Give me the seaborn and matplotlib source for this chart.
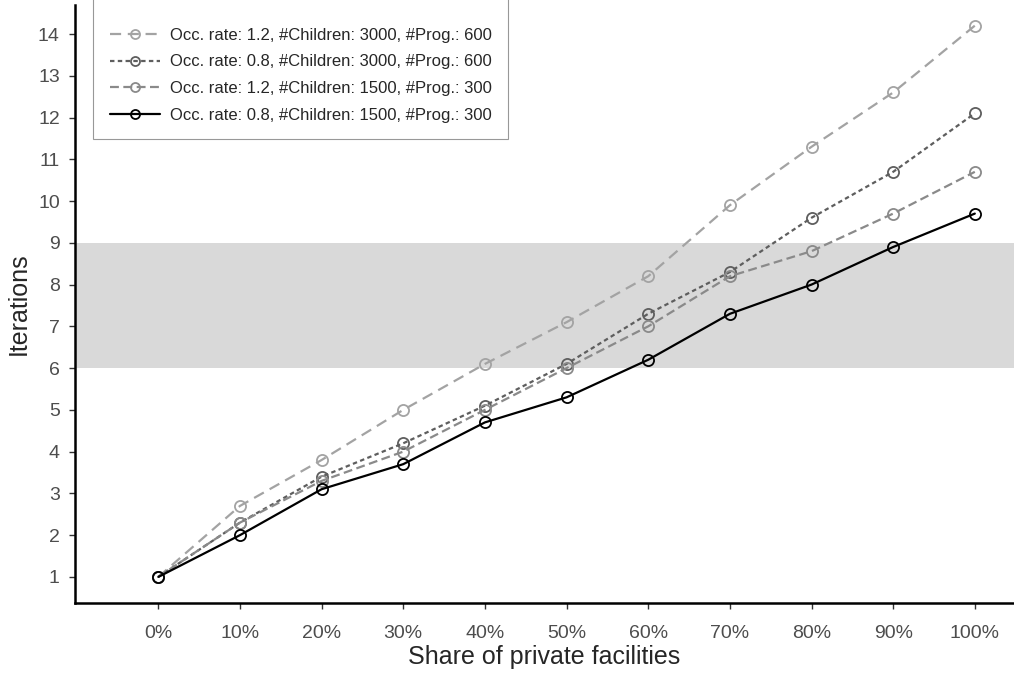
import numpy as np
import pandas as pd
import seaborn as sns
import matplotlib.pyplot as plt
from matplotlib.ticker import FuncFormatter

share = [0, 10, 20, 30, 40, 50, 60, 70, 80, 90, 100]
series_names = [
    'Occ. rate: 1.2, #Children: 3000, #Prog.: 600',
    'Occ. rate: 0.8, #Children: 3000, #Prog.: 600',
    'Occ. rate: 1.2, #Children: 1500, #Prog.: 300',
    'Occ. rate: 0.8, #Children: 1500, #Prog.: 300',
]
occ12_3000 = [1, 2.7, 3.8, 5.0, 6.1, 7.1, 8.2, 9.9, 11.3, 12.6, 14.2]
occ08_3000 = [1, 2.3, 3.4, 4.2, 5.1, 6.1, 7.3, 8.3, 9.6, 10.7, 12.1]
occ12_1500 = [1, 2.3, 3.3, 4.0, 5.0, 6.0, 7.0, 8.2, 8.8, 9.7, 10.7]
occ08_1500 = [1, 2.0, 3.1, 3.7, 4.7, 5.3, 6.2, 7.3, 8.0, 8.9, 9.7]
band_low, band_high = 6, 9

df = pd.DataFrame({
    'share': share * 4,
    'iterations': occ12_3000 + occ08_3000 + occ12_1500 + occ08_1500,
    'setting': np.repeat(series_names, len(share)),
})

sns.set_style('ticks')
plt.rcParams['font.family'] = ['Liberation Sans', 'DejaVu Sans']

colors = dict(zip(series_names, ['#a3a3a3', '#5e5e5e', '#8a8a8a', '#000000']))
dashes = dict(zip(series_names, [(5, 3), (2, 1.5), (4, 2), '']))

fig, ax = plt.subplots(figsize=(10.14, 6.85), dpi=100)
ax.axhspan(band_low, band_high, color='#d9d9d9', lw=0, zorder=0)

sns.lineplot(data=df, x='share', y='iterations', hue='setting', style='setting',
             palette=colors, dashes=dashes, markers=dict(zip(series_names, ['o'] * 4)),
             markersize=8, linewidth=1.6, ax=ax, hue_order=series_names,
             style_order=series_names, legend=False)
for line, name in zip(ax.lines, series_names):
    line.set_markeredgecolor(colors[name])
    line.set_markerfacecolor('none')
    line.set_markeredgewidth(1.3)

ax.set_xlim(-10.2, 104.8)
ax.set_ylim(0.38, 14.7)
ax.set_xticks(share)
ax.xaxis.set_major_formatter(FuncFormatter(lambda v, p: f'{v:.0f}%'))
ax.set_yticks(range(1, 15))
ax.tick_params(axis='both', colors='#4d4d4d', labelsize=14, length=4, width=1)
ax.tick_params(axis='x', pad=12)
ax.tick_params(axis='y', pad=7)
ax.tick_params(axis='both', color='#333333')
for s in ['top', 'right']:
    ax.spines[s].set_visible(False)
for s in ['left', 'bottom']:
    ax.spines[s].set_linewidth(1.8)
    ax.spines[s].set_color('black')
ax.set_xlabel('Share of private facilities', fontsize=18, labelpad=2)
ax.set_ylabel('Iterations', fontsize=18)
ax.yaxis.set_label_coords(-0.047, 0.5)

# blank title reproduces the extra space above the first entry
leg = ax.legend(ax.lines[:4], series_names, title=' ', title_fontsize=12,
                loc='upper left', bbox_to_anchor=(0.019, 1.034),
                fontsize=12, frameon=True, fancybox=False, edgecolor='#7f7f7f',
                borderpad=1.0, handlelength=3.0, handletextpad=0.6, labelspacing=0.7,
                borderaxespad=0, numpoints=1)
leg.get_frame().set_linewidth(0.8)
for h in leg.legend_handles:
    h.set_markersize(6.5)

fig.subplots_adjust(left=0.074, right=1.0, top=0.993, bottom=0.12)
fig.savefig('out.png', dpi=100)
